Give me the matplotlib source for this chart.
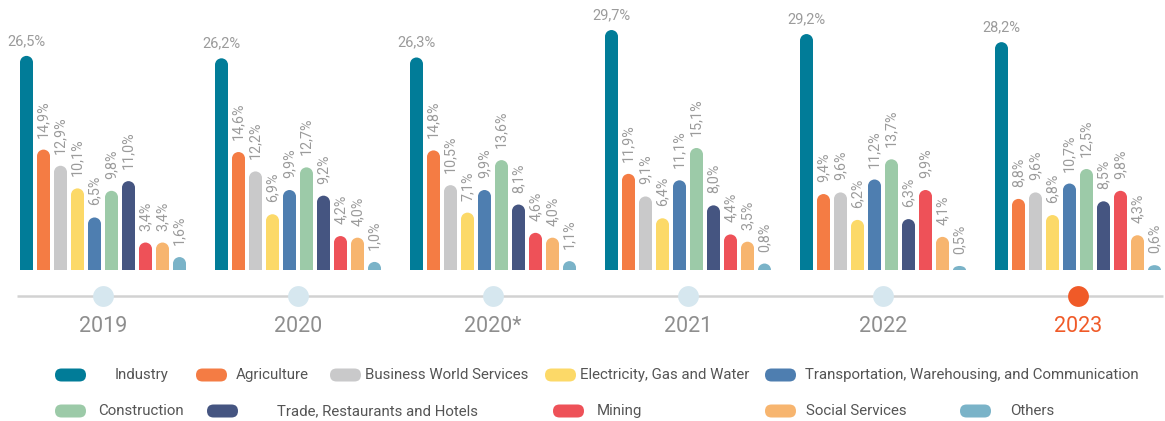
import matplotlib
matplotlib.use("Agg")
import matplotlib.pyplot as plt
from matplotlib.patches import Ellipse, Rectangle, FancyBboxPatch
from matplotlib.transforms import IdentityTransform

plt.rcParams['font.family'] = ['Roboto', 'DejaVu Sans']

# ---- data -------------------------------------------------------------
years = ["2019", "2020", "2020*", "2021", "2022", "2023"]
sectors = [
    "Industry", "Agriculture", "Business World Services",
    "Electricity, Gas and Water",
    "Transportation, Warehousing, and Communication",
    "Construction", "Trade, Restaurants and Hotels", "Mining",
    "Social Services", "Others",
]
share_2019 = [26.5, 14.9, 12.9, 10.1, 6.5, 9.8, 11.0, 3.4, 3.4, 1.6]
share_2020 = [26.2, 14.6, 12.2, 6.9, 9.9, 12.7, 9.2, 4.2, 4.0, 1.0]
share_2020b = [26.3, 14.8, 10.5, 7.1, 9.9, 13.6, 8.1, 4.6, 4.0, 1.1]
share_2021 = [29.7, 11.9, 9.1, 6.4, 11.1, 15.1, 8.0, 4.4, 3.5, 0.8]
share_2022 = [29.2, 9.4, 9.6, 6.2, 11.2, 13.7, 6.3, 9.9, 4.1, 0.5]
share_2023 = [28.2, 8.8, 9.6, 6.8, 10.7, 12.5, 8.5, 9.8, 4.3, 0.6]
shares = [share_2019, share_2020, share_2020b, share_2021, share_2022, share_2023]

colors = ["#017c98", "#f47c44", "#c9c9ca", "#fcd968", "#4e7eb0",
          "#9ccaa8", "#455581", "#ee5158", "#f7b56f", "#7ab3c8"]
highlight_year = "2023"

# ---- layout -----------------------------------------------------------
W, H = 1165, 421
DPI = 100
GROUP_PX = 195.0       # pixel distance between year groups
FIRST_PX = 103.0       # pixel x of the first group centre
BASE_PX = 270.0        # pixel y (from top) of the bar baseline
PX_PER_PCT = 8.08      # vertical pixels per percentage point
BAR_STEP = 17.0 / GROUP_PX
BAR_W = 13.0 / GROUP_PX

fig = plt.figure(figsize=(W / DPI, H / DPI), dpi=DPI)
ax = fig.add_axes([0, 0, 1, 1])
ax.set_xlim(-FIRST_PX / GROUP_PX, (W - FIRST_PX) / GROUP_PX)
ax.set_ylim((BASE_PX - H) / PX_PER_PCT, BASE_PX / PX_PER_PCT)
ax.axis("off")


def px_y(p):
    """pixel row (from top) -> data y"""
    return (BASE_PX - p) / PX_PER_PCT


def px_x(p):
    return (p - FIRST_PX) / GROUP_PX


cap_h = (BAR_W * GROUP_PX / 2) / PX_PER_PCT   # half-width in y units
clip = Rectangle((-10, 0), 100, 100, transform=ax.transData)
label_color = "#9b9b9b"

for gi, vals in enumerate(shares):
    n = len(vals)
    for si, v in enumerate(vals):
        x = gi + (si - (n - 1) / 2) * BAR_STEP
        c = min(cap_h, v)
        ax.bar(x, v - c, width=BAR_W, bottom=0, color=colors[si],
               linewidth=0)
        cap = Ellipse((x, v - c), BAR_W, 2 * c, color=colors[si], lw=0)
        ax.add_patch(cap)
        cap.set_clip_path(clip)
        txt = f"{v:.1f}".replace(".", ",") + "%"
        if si == 0:
            ax.annotate(txt, (x, v), xytext=(0, 8),
                        textcoords="offset pixels", ha="center",
                        va="bottom", fontsize=10.5, color=label_color)
        else:
            ax.annotate(txt, (x, v), xytext=(0, 12),
                        textcoords="offset pixels", ha="center",
                        va="bottom", rotation=90, fontsize=10.3,
                        color=label_color)

# ---- timeline ---------------------------------------------------------
line_y = px_y(296)
ax.plot([px_x(17), px_x(1163)], [line_y, line_y], color="#d2d2d2",
        lw=1.8, solid_capstyle="butt", zorder=1)
for gi, yr in enumerate(years):
    hi = yr == highlight_year
    ax.plot(gi, line_y, "o", ms=15, color="#f05a28" if hi else "#d6e7ef",
            mec="none", zorder=2)
    ax.text(gi, px_y(327), yr, ha="center", va="center", fontsize=15.5,
            color="#f05a28" if hi else "#8e8e8e")

# ---- legend -----------------------------------------------------------
# (swatch left, text left, row centre) in pixels from the top-left corner
legend_spots = [
    (55, 115, 375), (196, 236, 375), (330, 365, 375), (545, 580, 375),
    (765, 805, 375),
    (55, 98, 411), (207, 277, 411), (553, 597, 411), (765, 806, 411),
    (960, 1010, 411),
]
sw_w, sw_h = 31, 13
for (sx, tx, cy), name, col in zip(legend_spots, sectors, colors):
    pill = FancyBboxPatch((sx, H - cy - sw_h / 2), sw_w, sw_h,
                          boxstyle=f"round,pad=0,rounding_size={sw_h / 2}",
                          transform=IdentityTransform(), facecolor=col,
                          edgecolor="none")
    fig.patches.append(pill)
    fig.text(tx / W, 1 - cy / H, name, ha="left", va="center",
             fontsize=10.8, color="#555555")

fig.savefig("out.png", dpi=DPI)
